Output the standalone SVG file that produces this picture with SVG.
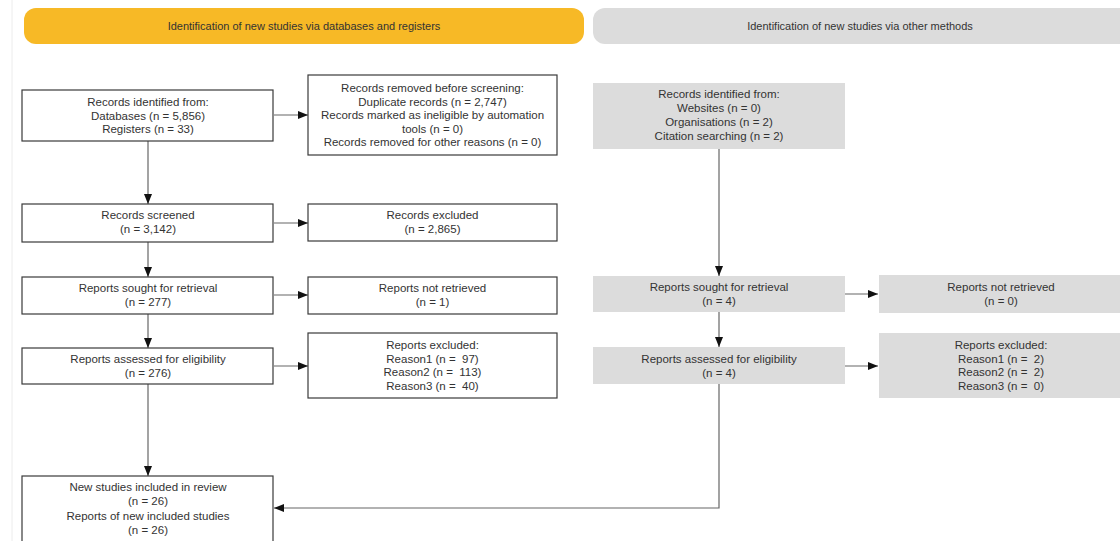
<svg xmlns="http://www.w3.org/2000/svg" width="1120" height="541" viewBox="0 0 1120 541">
<style>
.t{font-family:"Liberation Sans",Arial,sans-serif;font-size:11.5px;fill:#333;text-anchor:middle;white-space:pre}
.h{font-family:"Liberation Sans",Arial,sans-serif;font-size:11px;fill:#333;text-anchor:middle}
.b{fill:#fff;stroke:#3a3a3a;stroke-width:1.2}
.g{fill:#dcdcdc;stroke:none}
.c{fill:none;stroke:#666;stroke-width:1.2}
</style>
<defs>
<marker id="ah" markerWidth="10" markerHeight="8" refX="10" refY="4" orient="auto" markerUnits="userSpaceOnUse">
<path d="M0,0 L10,4 L0,8 z" fill="#111"/>
</marker>
</defs>
<rect width="1120" height="541" fill="#fff"/>
<line x1="12" y1="0" x2="12" y2="541" stroke="#ececec" stroke-width="1"/>

<g id="header-db">
<rect x="24" y="8" width="560" height="36" rx="12" fill="#f7b926"/>
<text class="h" x="304" y="30">Identification of new studies via databases and registers</text>
</g>
<g id="header-other">
<rect x="593" y="8" width="540" height="36" rx="12" fill="#dcdcdc"/>
<text class="h" x="860" y="30">Identification of new studies via other methods</text>
</g>

<g id="connectors">
<line class="c" x1="274" y1="115" x2="308" y2="115" marker-end="url(#ah)"/>
<line class="c" x1="148" y1="141" x2="148" y2="204" marker-end="url(#ah)"/>
<line class="c" x1="274" y1="223" x2="308" y2="223" marker-end="url(#ah)"/>
<line class="c" x1="148" y1="242" x2="148" y2="277" marker-end="url(#ah)"/>
<line class="c" x1="274" y1="295" x2="308" y2="295" marker-end="url(#ah)"/>
<line class="c" x1="148" y1="314" x2="148" y2="348" marker-end="url(#ah)"/>
<line class="c" x1="274" y1="366" x2="308" y2="366" marker-end="url(#ah)"/>
<line class="c" x1="148" y1="384" x2="148" y2="476" marker-end="url(#ah)"/>
<line class="c" x1="719" y1="148" x2="719" y2="276" marker-end="url(#ah)"/>
<line class="c" x1="845" y1="294" x2="878" y2="294" marker-end="url(#ah)"/>
<line class="c" x1="719" y1="312" x2="719" y2="347" marker-end="url(#ah)"/>
<line class="c" x1="845" y1="366" x2="878" y2="366" marker-end="url(#ah)"/>
<polyline class="c" points="719,384 719,508 274,508" marker-end="url(#ah)"/>
</g>

<g id="records-identified">
<rect class="b" x="22" y="90" width="251" height="51"/>
<text class="t" x="148" y="106">Records identified from:</text>
<text class="t" x="148" y="119.5">Databases (n = 5,856)</text>
<text class="t" x="148" y="133">Registers (n = 33)</text>
</g>
<g id="records-removed">
<rect class="b" x="308" y="75" width="249" height="80"/>
<text class="t" x="432.5" y="92">Records removed before screening:</text>
<text class="t" x="432.5" y="105.5">Duplicate records (n = 2,747)</text>
<text class="t" x="432.5" y="119">Records marked as ineligible by automation</text>
<text class="t" x="432.5" y="132.5">tools (n = 0)</text>
<text class="t" x="432.5" y="146">Records removed for other reasons (n = 0)</text>
</g>
<g id="records-screened">
<rect class="b" x="22" y="204" width="251" height="38"/>
<text class="t" x="148" y="219">Records screened</text>
<text class="t" x="148" y="233">(n = 3,142)</text>
</g>
<g id="records-excluded">
<rect class="b" x="308" y="204" width="249" height="37"/>
<text class="t" x="432.5" y="219">Records excluded</text>
<text class="t" x="432.5" y="233">(n = 2,865)</text>
</g>
<g id="reports-sought">
<rect class="b" x="22" y="277" width="251" height="37"/>
<text class="t" x="148" y="292">Reports sought for retrieval</text>
<text class="t" x="148" y="306">(n = 277)</text>
</g>
<g id="reports-not-retrieved">
<rect class="b" x="308" y="277" width="249" height="37"/>
<text class="t" x="432.5" y="292">Reports not retrieved</text>
<text class="t" x="432.5" y="306">(n = 1)</text>
</g>
<g id="reports-assessed">
<rect class="b" x="22" y="348" width="251" height="36"/>
<text class="t" x="148" y="363">Reports assessed for eligibility</text>
<text class="t" x="148" y="377">(n = 276)</text>
</g>
<g id="reports-excluded">
<rect class="b" x="308" y="333" width="249" height="65"/>
<text class="t" x="432.5" y="349">Reports excluded:</text>
<text class="t" x="432.5" y="362.5">Reason1 (n =  97)</text>
<text class="t" x="432.5" y="376">Reason2 (n =  113)</text>
<text class="t" x="432.5" y="389.5">Reason3 (n =  40)</text>
</g>
<g id="included">
<rect class="b" x="22" y="476" width="251" height="70"/>
<text class="t" x="148" y="491">New studies included in review</text>
<text class="t" x="148" y="505">(n = 26)</text>
<text class="t" x="148" y="519.5">Reports of new included studies</text>
<text class="t" x="148" y="534">(n = 26)</text>
</g>

<g id="other-identified">
<rect class="g" x="593" y="83" width="252" height="66"/>
<text class="t" x="719" y="98">Records identified from:</text>
<text class="t" x="719" y="112">Websites (n = 0)</text>
<text class="t" x="719" y="126">Organisations (n = 2)</text>
<text class="t" x="719" y="140">Citation searching (n = 2)</text>
</g>
<g id="other-sought">
<rect class="g" x="593" y="276" width="252" height="36"/>
<text class="t" x="719" y="291">Reports sought for retrieval</text>
<text class="t" x="719" y="305">(n = 4)</text>
</g>
<g id="other-not-retrieved">
<rect class="g" x="879" y="275" width="245" height="38"/>
<text class="t" x="1001" y="291">Reports not retrieved</text>
<text class="t" x="1001" y="305">(n = 0)</text>
</g>
<g id="other-assessed">
<rect class="g" x="593" y="347" width="252" height="37"/>
<text class="t" x="719" y="363">Reports assessed for eligibility</text>
<text class="t" x="719" y="377">(n = 4)</text>
</g>
<g id="other-excluded">
<rect class="g" x="879" y="333" width="245" height="65"/>
<text class="t" x="1001" y="349">Reports excluded:</text>
<text class="t" x="1001" y="362.5">Reason1 (n =  2)</text>
<text class="t" x="1001" y="376">Reason2 (n =  2)</text>
<text class="t" x="1001" y="389.5">Reason3 (n =  0)</text>
</g>
</svg>
